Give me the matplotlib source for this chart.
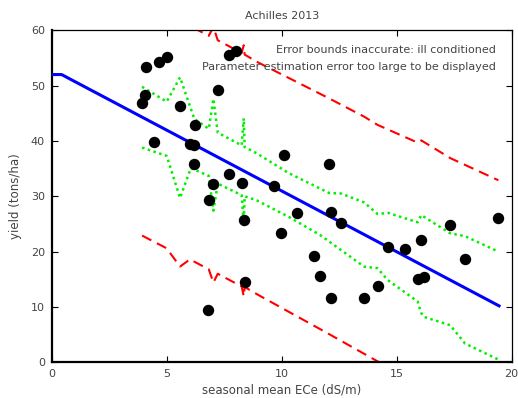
import matplotlib
matplotlib.use("Agg")
import matplotlib.pyplot as plt

# observed data
ece = [4.10, 4.65, 5.00, 4.04, 3.93, 5.58, 7.22, 6.23, 7.71, 8.01, 4.45, 6.01, 6.19,
       6.20, 7.71, 7.03, 8.26, 6.83, 8.35, 8.39, 6.80, 10.10, 12.06, 9.65, 10.67,
       12.14, 12.58, 9.96, 14.63, 15.37, 16.07, 17.33, 19.42, 17.97, 15.91, 16.19,
       14.17, 11.42, 11.68, 12.16, 13.58]
yld = [53.3, 54.3, 55.2, 48.3, 46.9, 46.4, 49.2, 42.8, 55.5, 56.3, 39.9, 39.5, 39.3,
       35.8, 34.0, 32.3, 32.4, 29.4, 25.8, 14.5, 9.4, 37.4, 35.8, 31.9, 26.9,
       27.2, 25.1, 23.4, 20.8, 20.4, 22.1, 24.9, 26.0, 18.7, 15.0, 15.5,
       13.7, 19.3, 15.6, 11.6, 11.6]

# fitted threshold-slope model
fit_x = [0.0, 0.43, 19.45]
fit_y = [52.0, 52.0, 10.2]

# confidence bounds (green)
gu_x = [3.93, 5.00, 5.58, 6.20, 6.83, 7.03, 7.22, 8.26, 8.35, 8.39, 8.90, 10.30,
        12.06, 12.58, 13.58, 14.17, 14.63, 15.91, 16.07, 17.33, 17.97, 19.42]
gu_y = [49.8, 47.1, 51.5, 44.0, 42.2, 47.6, 41.5, 39.2, 44.1, 38.9, 37.8, 34.2,
        30.6, 30.5, 28.9, 26.8, 27.0, 25.3, 26.6, 23.3, 22.8, 20.0]
gl_x = [3.93, 5.00, 5.58, 6.05, 6.83, 7.03, 7.22, 8.26, 8.35, 8.39, 8.90, 10.30,
        11.67, 13.58, 14.17, 14.60, 15.91, 16.07, 16.19, 17.33, 17.97, 19.42]
gl_y = [38.8, 37.3, 29.7, 35.1, 33.7, 27.4, 32.3, 30.2, 24.8, 30.0, 29.3, 26.3,
        23.0, 17.3, 17.0, 14.9, 11.0, 8.9, 8.2, 6.7, 3.4, 0.5]

# prediction bounds (red)
ru_x = [3.93, 5.00, 5.58, 6.01, 6.83, 7.03, 7.22, 8.26, 8.35, 8.39, 8.97, 12.06,
        13.58, 14.17, 15.91, 16.07, 17.33, 19.42]
ru_y = [65.7, 63.2, 64.1, 60.8, 59.0, 60.6, 58.2, 55.9, 57.3, 55.6, 54.2, 47.7,
        44.4, 42.9, 39.7, 40.1, 36.9, 32.9]
rl_x = [3.93, 5.00, 5.58, 6.01, 6.83, 7.03, 7.22, 8.26, 8.35, 8.39, 8.97, 12.06,
        14.20, 15.91, 19.42]
rl_y = [22.9, 20.6, 17.3, 18.6, 16.8, 14.4, 16.0, 13.7, 11.9, 13.6, 12.2, 5.1,
        0.1, -5.1, -12.5]

x_ticks = [0, 5, 10, 15, 20]
y_ticks = [0, 10, 20, 30, 40, 50, 60]

tc = "#444444"
fig = plt.figure(figsize=(5.18, 3.98), dpi=100)
ax = fig.add_axes([0.0998, 0.0897, 0.888, 0.8342])

ax.plot(rl_x, rl_y, color="#ff0000", lw=1.5, ls=(0, (5, 3)), zorder=2)
ax.plot(ru_x, ru_y, color="#ff0000", lw=1.5, ls=(0, (5, 3)), zorder=2)
ax.plot(gl_x, gl_y, color="#00f000", lw=1.8, ls=(0, (1, 1.4)), zorder=2)
ax.plot(gu_x, gu_y, color="#00f000", lw=1.8, ls=(0, (1, 1.4)), zorder=2)
ax.plot(fit_x, fit_y, color="#0000ff", lw=2.2, zorder=3)
ax.plot(ece, yld, "o", color="black", ms=7.2, zorder=4)

ax.set_xlim(0, 20)
ax.set_ylim(0, 60)
ax.set_xticks(x_ticks)
ax.set_yticks(y_ticks)
ax.tick_params(direction="in", top=True, right=True, length=4, width=0.8,
               labelsize=8, colors="black", labelcolor=tc, pad=5)
for s in ["left", "bottom"]:
    ax.spines[s].set_linewidth(1.6)
for s in ["top", "right"]:
    ax.spines[s].set_linewidth(0.9)

ax.set_xlabel("seasonal mean ECe (dS/m)", fontsize=8.5, color=tc, labelpad=3)
ax.set_ylabel("yield (tons/ha)", fontsize=8.5, color=tc, labelpad=6)
ax.set_title("Achilles 2013", fontsize=8, color=tc, pad=8)

ax.text(0.965, 0.94, "Error bounds inaccurate: ill conditioned", transform=ax.transAxes,
        ha="right", va="center", fontsize=8, color=tc)
ax.text(0.965, 0.889, "Parameter estimation error too large to be displayed",
        transform=ax.transAxes, ha="right", va="center", fontsize=8, color=tc)

fig.savefig("out.png", dpi=100)
